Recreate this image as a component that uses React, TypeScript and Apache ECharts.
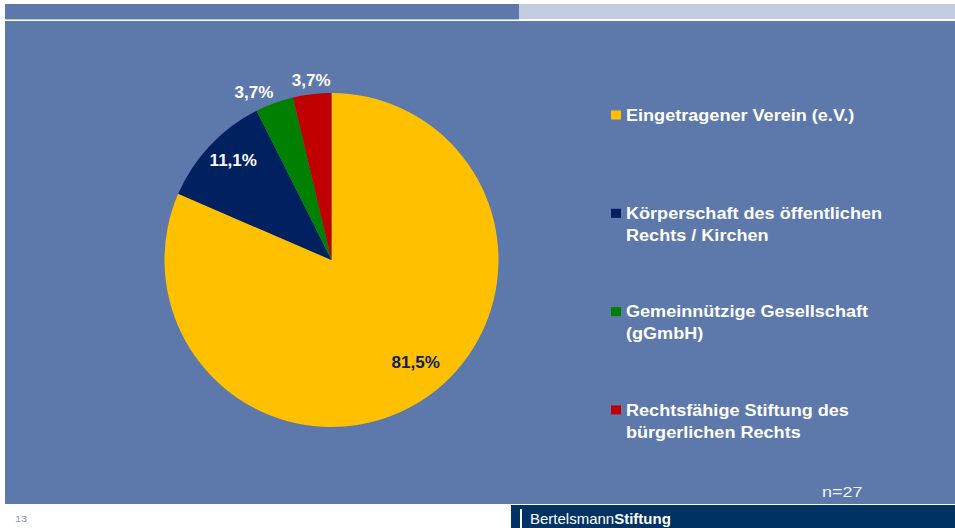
import React, { useEffect, useRef } from "react";
import * as echarts from "echarts";

// ---- data ----
const CATEGORIES = [
  "Eingetragener Verein (e.V.)",
  "Körperschaft des öffentlichen\nRechts / Kirchen",
  "Gemeinnützige Gesellschaft\n(gGmbH)",
  "Rechtsfähige Stiftung des\nbürgerlichen Rechts",
];
const COUNTS = [22, 3, 1, 1];
const SHARES = [81.5, 11.1, 3.7, 3.7];
const COLORS = ["#FFC000", "#002060", "#008000", "#C00000"];
const LABEL_COLORS = ["#0B2160", "#FFFFFF", "#FFFFFF", "#FFFFFF"];
const SAMPLE_LABEL = "n=27";
const PAGE_NUMBER = "13";
const LOGO_REGULAR = "Bertelsmann";
const LOGO_BOLD = "Stiftung";

// ---- layout / style (not data) ----
const W = 955;
const H = 528;
const CX = 331.5;
const CY = 260;
const R = 167;
const LABEL_ANGLE_SHIFT = [-6, 2, -4.8, 0.2];
const LABEL_RADIUS = [0.795, 0.837, 1.108, 1.079];
const LABEL_INSIDE = [true, true, false, false];

const PANEL = "#5D78AB";
const TOP_LIGHT = "#C3CBDF";
const BOTTOM_DARK = "#003264";
const FONT = '"Liberation Sans", Arial, sans-serif';

export default function App() {
  const ref = useRef<HTMLDivElement | null>(null);

  useEffect(() => {
    document.body.style.margin = "0";
    if (!ref.current) return;
    const chart = echarts.init(ref.current, undefined, { renderer: "svg" });

    const total = COUNTS.reduce((a, b) => a + b, 0);
    let cum = 0;
    const mids = COUNTS.map((v) => {
      const m = ((cum + v / 2) / total) * 360;
      cum += v;
      return m;
    });

    const legendStart = 115;
    const legendStep = 98.3;
    const legendEls: any[] = [];
    CATEGORIES.forEach((name, i) => {
      const cy = legendStart + i * legendStep;
      const lines = name.split("\n").length;
      legendEls.push({
        type: "rect",
        shape: { x: 611, y: cy - 4.5, width: 10, height: 9 },
        style: { fill: COLORS[i] },
      });
      legendEls.push({
        type: "text",
        x: 626,
        y: cy + ((lines - 1) * 22) / 2 + 0.5,
        scaleX: 1.13,
        style: {
          text: name,
          font: `bold 16px ${FONT}`,
          fill: "#FFFFFF",
          lineHeight: 22,
          align: "left",
          verticalAlign: "middle",
        },
      });
    });

    const option: any = {
      animation: false,
      backgroundColor: "#FFFFFF",
      graphic: {
        elements: [
          { type: "rect", shape: { x: 5, y: 4, width: 514, height: 15 }, style: { fill: PANEL } },
          { type: "rect", shape: { x: 519, y: 4, width: W - 519, height: 15 }, style: { fill: TOP_LIGHT } },
          { type: "rect", shape: { x: 5, y: 19, width: 514, height: 1 }, style: { fill: "#B9C6DE" } },
          { type: "rect", shape: { x: 5, y: 21, width: W - 5, height: 483 }, style: { fill: PANEL } },
          { type: "rect", shape: { x: 511, y: 505, width: W - 511, height: 23 }, style: { fill: BOTTOM_DARK } },
          { type: "rect", shape: { x: 520, y: 509, width: 2, height: 19 }, style: { fill: "#FFFFFF" } },
          {
            type: "text",
            x: 530,
            y: 518,
            style: {
              text: `{r|${LOGO_REGULAR}}{b|${LOGO_BOLD}}`,
              verticalAlign: "middle",
              rich: {
                r: { font: `15px ${FONT}`, fill: "#FFFFFF" },
                b: { font: `bold 15px ${FONT}`, fill: "#FFFFFF" },
              },
            },
          },
          {
            type: "text",
            x: 15,
            y: 519,
            scaleX: 1.2,
            style: {
              text: PAGE_NUMBER,
              font: `9px ${FONT}`,
              fill: "#8A9BC2",
              verticalAlign: "middle",
            },
          },
          {
            type: "text",
            x: 822,
            y: 492,
            scaleX: 1.2,
            style: {
              text: SAMPLE_LABEL,
              font: `15px ${FONT}`,
              fill: "#F2F2F2",
              verticalAlign: "middle",
            },
          },
          ...legendEls,
        ],
      },
      series: [
        {
          type: "pie",
          center: [CX, CY],
          radius: R,
          startAngle: 90,
          clockwise: true,
          avoidLabelOverlap: false,
          silent: true,
          itemStyle: { borderWidth: 0 },
          labelLine: { show: false },
          label: {
            show: true,
            fontFamily: FONT,
            fontWeight: "bold",
            fontSize: 17,
          },
          labelLayout: (params: any) => {
            const i = params.dataIndex;
            const a = ((mids[i] + LABEL_ANGLE_SHIFT[i]) * Math.PI) / 180;
            const rr = R * LABEL_RADIUS[i];
            return {
              x: CX + rr * Math.sin(a),
              y: CY - rr * Math.cos(a),
              align: "center",
              verticalAlign: "middle",
            };
          },
          data: COUNTS.map((v, i) => ({
            name: CATEGORIES[i],
            value: v,
            itemStyle: { color: COLORS[i] },
            label: {
              position: LABEL_INSIDE[i] ? "inside" : "outside",
              color: LABEL_COLORS[i],
              formatter: `${SHARES[i].toFixed(1).replace(".", ",")}%`,
            },
            labelLine: { show: false },
          })),
        },
      ],
    };

    chart.setOption(option);
    return () => {
      chart.dispose();
    };
  }, []);

  return <div ref={ref} style={{ width: W, height: H }} />;
}
